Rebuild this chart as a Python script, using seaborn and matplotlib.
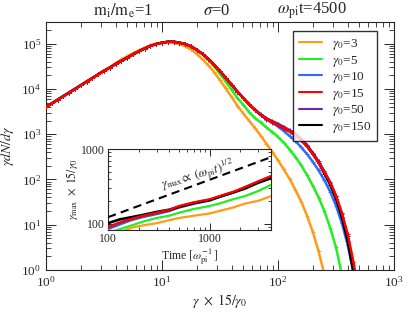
import numpy as np
import pandas as pd
import matplotlib
matplotlib.use("Agg")
import matplotlib.pyplot as plt
import seaborn as sns

# ---------------- data ----------------
# log10 of gamma*15/gamma0 sample positions
log_x = [0.00, 0.05, 0.10, 0.15, 0.20, 0.25, 0.30, 0.35, 0.40, 0.45,
         0.50, 0.55, 0.60, 0.65, 0.70, 0.75, 0.80, 0.85, 0.90, 0.95,
         1.00, 1.05, 1.10, 1.15, 1.20, 1.25, 1.30, 1.35, 1.40, 1.45,
         1.50, 1.55, 1.60, 1.65, 1.70, 1.75, 1.80, 1.85, 1.90, 1.95,
         2.00, 2.05, 2.10, 2.15, 2.20, 2.25, 2.30, 2.35, 2.40, 2.45,
         2.50, 2.55, 2.60, 2.65, 2.70]

# log10 of gamma dN/dgamma for each gamma0
logy_g3 = [3.60, 3.68, 3.76, 3.84, 3.92, 4.00, 4.08, 4.16, 4.24, 4.32,
           4.40, 4.48, 4.57, 4.65, 4.72, 4.79, 4.85, 4.91, 4.96, 5.00,
           5.02, 5.03, 5.02, 4.99, 4.94, 4.87, 4.77, 4.65, 4.52, 4.37,
           4.19, 4.01, 3.82, 3.63, 3.46, 3.30, 3.14, 2.97, 2.79, 2.61,
           2.42, 2.22, 2.01, 1.77, 1.51, 1.20, 0.84, 0.41, -0.10]
logy_g5 = [3.60, 3.68, 3.76, 3.84, 3.92, 4.00, 4.08, 4.16, 4.24, 4.32,
           4.40, 4.47, 4.55, 4.62, 4.69, 4.76, 4.83, 4.89, 4.95, 4.99,
           5.02, 5.04, 5.04, 5.02, 4.99, 4.94, 4.86, 4.77, 4.64, 4.50,
           4.33, 4.16, 3.98, 3.80, 3.65, 3.49, 3.36, 3.26, 3.15, 3.05,
           2.94, 2.81, 2.66, 2.50, 2.31, 2.10, 1.86, 1.60, 1.30, 0.93,
           0.50, -0.10]
logy_g10 = [3.60, 3.68, 3.76, 3.84, 3.92, 4.00, 4.08, 4.16, 4.24, 4.32,
            4.40, 4.47, 4.55, 4.62, 4.69, 4.76, 4.83, 4.89, 4.95, 4.99,
            5.02, 5.04, 5.04, 5.02, 4.99, 4.94, 4.86, 4.77, 4.66, 4.53,
            4.39, 4.24, 4.09, 3.94, 3.80, 3.66, 3.54, 3.43, 3.32, 3.25,
            3.17, 3.07, 2.96, 2.85, 2.71, 2.56, 2.39, 2.20, 1.98, 1.73,
            1.42, 1.04, 0.56, -0.05]
logy_g15 = [3.60, 3.68, 3.76, 3.84, 3.92, 4.00, 4.08, 4.16, 4.24, 4.32,
            4.40, 4.47, 4.55, 4.62, 4.69, 4.76, 4.83, 4.89, 4.95, 4.99,
            5.02, 5.04, 5.04, 5.02, 4.99, 4.94, 4.86, 4.77, 4.66, 4.53,
            4.39, 4.24, 4.09, 3.94, 3.80, 3.66, 3.54, 3.43, 3.34, 3.27,
            3.20, 3.13, 3.06, 2.97, 2.87, 2.73, 2.56, 2.37, 2.16, 1.93,
            1.64, 1.26, 0.80, 0.18, -0.60]
logy_g50 = [3.60, 3.68, 3.76, 3.84, 3.92, 4.00, 4.08, 4.16, 4.24, 4.32,
            4.40, 4.47, 4.55, 4.62, 4.69, 4.76, 4.83, 4.89, 4.95, 4.99,
            5.02, 5.04, 5.04, 5.02, 4.99, 4.94, 4.86, 4.77, 4.66, 4.53,
            4.39, 4.24, 4.09, 3.94, 3.80, 3.66, 3.54, 3.44, 3.35, 3.29,
            3.23, 3.16, 3.09, 3.01, 2.90, 2.76, 2.59, 2.40, 2.18, 1.94,
            1.64, 1.24, 0.76, 0.10, -0.60]
logy_g150 = [3.60, 3.68, 3.76, 3.84, 3.92, 4.00, 4.08, 4.16, 4.24, 4.32,
             4.40, 4.47, 4.55, 4.62, 4.69, 4.76, 4.83, 4.89, 4.95, 4.99,
             5.02, 5.04, 5.04, 5.02, 4.99, 4.94, 4.86, 4.77, 4.66, 4.53,
             4.39, 4.24, 4.09, 3.94, 3.80, 3.66, 3.54, 3.43, 3.34, 3.27,
             3.20, 3.13, 3.06, 2.97, 2.87, 2.73, 2.56, 2.37, 2.13, 1.88,
             1.57, 1.17, 0.65, -0.05]

labels = [r"$\gamma_0$=3", r"$\gamma_0$=5", r"$\gamma_0$=10",
          r"$\gamma_0$=15", r"$\gamma_0$=50", r"$\gamma_0$=150"]
colors = ["#FF9A1A", "#22EE22", "#2F6BFF", "#FF0000", "#6A2AA8", "#000000"]
spectra = [logy_g3, logy_g5, logy_g10, logy_g15, logy_g50, logy_g150]

# inset: gamma_max * 15/gamma0 vs time
time_pts = [100, 130, 170, 220, 300, 400, 500, 700, 1000, 1300, 1700, 2200, 3000, 4000]
lgmax_g3 = [1.84, 1.89, 1.95, 1.98, 2.01, 2.05, 2.08, 2.11, 2.14, 2.18, 2.22, 2.27, 2.31, 2.37]
lgmax_g5 = [1.88, 1.93, 1.98, 2.03, 2.08, 2.11, 2.15, 2.20, 2.24, 2.28, 2.33, 2.37, 2.44, 2.52]
lgmax_g10 = [1.93, 1.99, 2.05, 2.09, 2.13, 2.17, 2.22, 2.27, 2.31, 2.37, 2.42, 2.48, 2.56, 2.62]
lgmax_g15 = [1.96, 2.02, 2.07, 2.11, 2.15, 2.19, 2.24, 2.29, 2.33, 2.38, 2.43, 2.49, 2.57, 2.64]
lgmax_g50 = [1.95, 2.01, 2.06, 2.10, 2.14, 2.18, 2.22, 2.27, 2.32, 2.37, 2.42, 2.49, 2.56, 2.63]
lgmax_g150 = [2.01, 2.06, 2.09, 2.12, 2.16, 2.19, 2.23, 2.28, 2.32, 2.37, 2.42, 2.47, 2.55, 2.61]
gmax_series = [lgmax_g3, lgmax_g5, lgmax_g10, lgmax_g15, lgmax_g50, lgmax_g150]
# reference power law t^(1/2) (two end points)
ref_t = [100, 4000]
ref_g = [123, 778]

# ---------------- style ----------------
sns.set_style("ticks")
plt.rcParams["font.family"] = ["Liberation Serif", "DejaVu Serif"]
plt.rcParams["mathtext.fontset"] = "stix"
plt.rcParams["axes.linewidth"] = 0.8

fig = plt.figure(figsize=(4.15, 3.12), dpi=100)
ax = fig.add_axes([46 / 415, 1 - 270 / 312, 348 / 415, 248 / 312])

order = [0, 1, 2, 4, 5, 3]  # red drawn last (on top)
for z, i in enumerate(order):
    n = len(spectra[i])
    df = pd.DataFrame({"x": 10 ** np.array(log_x[:n]), "y": 10 ** np.array(spectra[i])})
    sns.lineplot(data=df, x="x", y="y", ax=ax, color=colors[i], lw=1.8,
                 marker="+", markersize=3.2, markeredgewidth=0.7,
                 markeredgecolor=colors[i], estimator=None, sort=False,
                 zorder=3 + z)

ax.set_xscale("log")
ax.set_yscale("log")
ax.set_xlim(1, 1000)
ax.set_ylim(1, 3e5)
ax.set_xlabel(r"$\gamma\ \times\ 15/\gamma_0$", fontsize=10, labelpad=2)
ax.set_ylabel(r"$\gamma dN/d\gamma$", fontsize=10, labelpad=4)
ax.tick_params(which="both", direction="in", top=True, right=True, labelsize=9.5)
ax.tick_params(which="major", length=7, width=0.7)
ax.tick_params(which="minor", length=3.5, width=0.6)
ax.yaxis.set_major_locator(matplotlib.ticker.LogLocator(base=10, numticks=10))
ax.yaxis.set_minor_locator(matplotlib.ticker.LogLocator(base=10, subs=np.arange(2, 10), numticks=20))
ax.xaxis.set_minor_locator(matplotlib.ticker.LogLocator(base=10, subs=np.arange(2, 10), numticks=20))

leg_h = [matplotlib.lines.Line2D([], [], color=colors[i], lw=1.5) for i in range(6)]
leg = ax.legend(leg_h, labels, loc="upper right",
                bbox_to_anchor=(377 / 415, 1 - 31 / 312), bbox_transform=fig.transFigure,
                borderaxespad=0, fontsize=9.5, frameon=True, fancybox=False,
                handlelength=1.8, handletextpad=0.7, labelspacing=0.12,
                borderpad=0.45, edgecolor="black")
leg.get_frame().set_linewidth(1.0)
leg.set_zorder(20)

# title
fig.text(123 / 415, 1 - 11 / 312, r"$\mathrm{m_i/m_e}$=1", ha="center", va="center", fontsize=12)
fig.text(217 / 415, 1 - 11 / 312, r"$\sigma$=0", ha="center", va="center", fontsize=12)
fig.text(312 / 415, 1 - 11 / 312, r"$\omega_{\mathrm{pi}}$t=4500", ha="center", va="center", fontsize=12)

# ---------------- inset ----------------
ins = fig.add_axes([108 / 415, 1 - 230 / 312, 163 / 415, 81 / 312])
ins_order = [0, 1, 2, 4, 5, 3]
for z, i in enumerate(ins_order):
    df = pd.DataFrame({"t": time_pts, "g": 10 ** np.array(gmax_series[i])})
    sns.lineplot(data=df, x="t", y="g", ax=ins, color=colors[i], lw=1.6 if i != 5 else 1.9,
                 estimator=None, sort=False, zorder=3 + z)
sns.lineplot(x=ref_t, y=ref_g, ax=ins, color="black", lw=1.5, linestyle=(0, (4, 2.5)),
             estimator=None, zorder=10)
ins.set_xscale("log")
ins.set_yscale("log")
ins.set_xlim(100, 4000)
ins.set_ylim(83, 1000)
ins.set_xticks([100, 1000])
ins.set_xticklabels(["100", "1000"])
ins.set_yticks([100, 1000])
ins.set_yticklabels(["100", "1000"])
ins.yaxis.set_minor_locator(matplotlib.ticker.LogLocator(base=10, subs=np.arange(2, 10), numticks=20))
ins.xaxis.set_minor_locator(matplotlib.ticker.LogLocator(base=10, subs=np.arange(2, 10), numticks=20))
ins.yaxis.set_minor_formatter(matplotlib.ticker.NullFormatter())
ins.xaxis.set_minor_formatter(matplotlib.ticker.NullFormatter())
ins.tick_params(which="both", direction="in", top=True, right=True, labelsize=8.5, pad=2)
ins.tick_params(which="major", length=5, width=0.7)
ins.tick_params(which="minor", length=2.5, width=0.6)
ins.set_xlabel(r"Time $[\omega_{\mathrm{pi}}^{-1}\,]$", fontsize=8.5, labelpad=1)
ins.set_ylabel(r"$\gamma_{\mathrm{max}}\ \times\ 15/\gamma_0$", fontsize=8.5, labelpad=1)
ins.set_facecolor("white")
ins.text(0.55, 0.68, r"$\gamma_{\mathrm{max}}\!\propto\ (\omega_{\mathrm{pi}}t)^{1/2}$",
         transform=ins.transAxes, ha="center", va="center", fontsize=9, rotation=16)

fig.savefig("out.png", dpi=100)
